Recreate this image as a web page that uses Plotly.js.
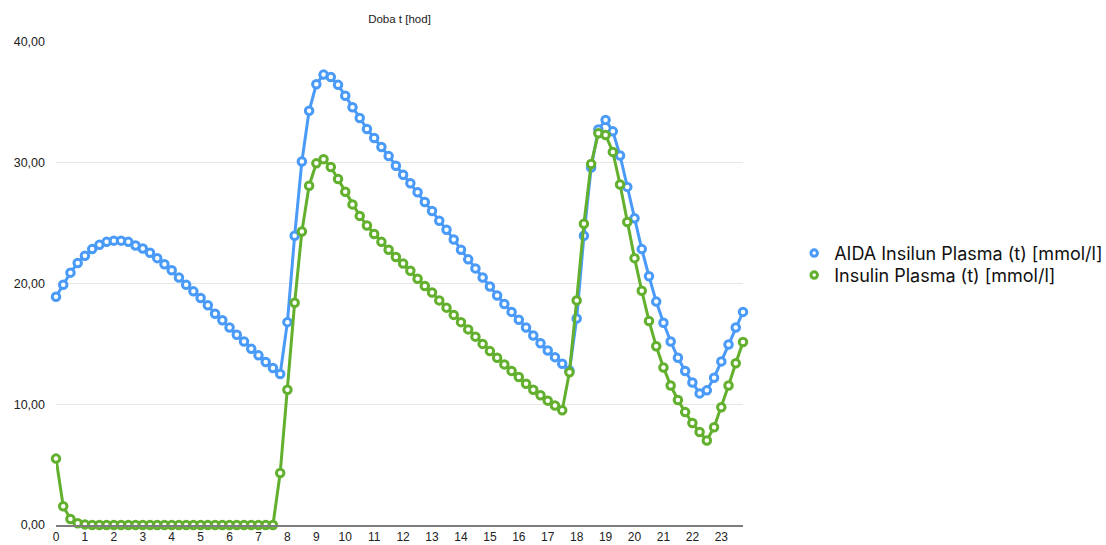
<!DOCTYPE html>
<html>
<head>
<meta charset="utf-8">
<script src="https://cdn.plot.ly/plotly-3.0.1.min.js"></script>
<style>html,body{margin:0;padding:0;background:#fff;}#chart{width:1106px;height:545px;}</style>
</head>
<body>
<div id="chart"></div>
<script>
// hours, every quarter hour from 0 to 23.75
const hours = [];
for (let i = 0; i < 96; i++) hours.push(i * 0.25);

const xTickVals = [0,1,2,3,4,5,6,7,8,9,10,11,12,13,14,15,16,17,18,19,20,21,22,23];
const yTickVals = [0,10,20,30,40];

const seriesNames = ["AIDA Insilun Plasma (t) [mmol/l]", "Insulin Plasma (t) [mmol/l]"];

const aidaInsulin = [
  18.9, 19.9, 20.9, 21.7, 22.3, 22.85, 23.2, 23.45, 23.55, 23.55, 23.45, 23.15,
  22.9, 22.55, 22.1, 21.6, 21.1, 20.5, 19.9, 19.35, 18.8, 18.2, 17.5, 16.95,
  16.35, 15.75, 15.2, 14.6, 14.05, 13.5, 13.0, 12.5,
  16.8, 23.95, 30.1, 34.3, 36.5, 37.3, 37.1, 36.45,
  35.55, 34.6, 33.7, 32.8, 32.05, 31.3, 30.55, 29.75,
  29.0, 28.3, 27.55, 26.75, 26.0, 25.2, 24.45, 23.65,
  22.8, 22.0, 21.25, 20.5, 19.75, 19.0, 18.3, 17.65,
  17.0, 16.35, 15.7, 15.05, 14.45, 13.9, 13.35, 12.8,
  17.1, 23.95, 29.6, 32.75, 33.55, 32.6, 30.6, 28.0,
  25.4, 22.85, 20.6, 18.5, 16.75, 15.2, 13.85, 12.75,
  11.8, 10.9, 11.15, 12.2, 13.55, 14.95, 16.35, 17.65
];

const plasmaInsulin = [
  5.5, 1.55, 0.5, 0.15, 0.05, 0, 0, 0, 0, 0, 0, 0,
  0, 0, 0, 0, 0, 0, 0, 0, 0, 0, 0, 0,
  0, 0, 0, 0, 0, 0, 0, 4.3,
  11.2, 18.4, 24.3, 28.1, 29.95, 30.3, 29.65, 28.65,
  27.6, 26.55, 25.6, 24.8, 24.1, 23.45, 22.8, 22.2,
  21.65, 21.05, 20.4, 19.8, 19.25, 18.6, 18.0, 17.4,
  16.8, 16.2, 15.6, 15.0, 14.4, 13.85, 13.3, 12.75,
  12.25, 11.7, 11.2, 10.75, 10.3, 9.9, 9.5, 12.65,
  18.6, 24.95, 29.9, 32.45, 32.3, 30.9, 28.2, 25.1,
  22.1, 19.4, 16.9, 14.8, 13.05, 11.55, 10.35, 9.35,
  8.45, 7.7, 7.0, 8.1, 9.75, 11.55, 13.4, 15.15
];

const BLUE = "#4a9af8";
const GREEN = "#62b02e";

function seriesTrace(y, color) {
  return {
    x: hours, y: y, type: "scatter", mode: "lines+markers",
    showlegend: false, cliponaxis: false, hoverinfo: "skip",
    line: {color: color, width: 3},
    marker: {symbol: "circle", size: 7.5, color: "#ffffff", line: {color: color, width: 3}}
  };
}
function legendTrace(name, color) {
  return {
    x: [null], y: [null], type: "scatter", mode: "markers", name: name,
    marker: {symbol: "circle", size: 6.5, color: "#ffffff", line: {color: color, width: 3}}
  };
}

const data = [
  seriesTrace(aidaInsulin, BLUE),
  seriesTrace(plasmaInsulin, GREEN),
  legendTrace(seriesNames[0], BLUE),
  legendTrace(seriesNames[1], GREEN)
];

const layout = {
  width: 1106, height: 545,
  margin: {l: 56, r: 363, t: 42, b: 20, pad: 0, autoexpand: false},
  paper_bgcolor: "#ffffff", plot_bgcolor: "#ffffff",
  separators: ",.",
  font: {family: "Liberation Sans, Arial, sans-serif", color: "#222222"},
  title: {
    text: "Doba t [hod]",
    font: {size: 11.5, color: "#222222"},
    x: 0.5, xref: "paper", xanchor: "center",
    y: 1, yref: "container", yanchor: "top", pad: {t: 15}
  },
  xaxis: {
    range: [0, 23.75], tickvals: xTickVals, ticktext: xTickVals.map(String),
    showgrid: false, zeroline: false, showline: true,
    linecolor: "#7d7d7d", linewidth: 2, ticks: "",
    tickfont: {size: 12, color: "#222222"}, ticklabelstandoff: 0
  },
  yaxis: {
    range: [0, 40], tickvals: yTickVals, tickformat: ".2f",
    showgrid: true, gridcolor: "#e6e6e6", gridwidth: 1,
    zeroline: false, showline: false, ticks: "",
    tickfont: {size: 12.5, color: "#222222"}, ticklabelstandoff: 10
  },
  legend: {
    x: 1.0745, xanchor: "left", y: 0.54, yanchor: "middle",
    font: {family: "Inter, Liberation Sans, Arial, sans-serif", size: 18, color: "#111111"},
    itemsizing: "trace", bgcolor: "rgba(0,0,0,0)", tracegroupgap: 0
  },
  hovermode: false
};

Plotly.newPlot("chart", data, layout, {displayModeBar: false, staticPlot: true}).then(function (gd) {
  // tighten legend row spacing (22px between rows) to match the reference
  const items = Array.from(gd.querySelectorAll(".legend .traces"));
  const parsed = items.map(function (el) {
    const m = (el.getAttribute("transform") || "").match(/translate\(\s*([-\d.]+)[ ,]+([-\d.]+)\s*\)/);
    return m ? [parseFloat(m[1]), parseFloat(m[2])] : null;
  });
  if (parsed.length === 2 && parsed[0] && parsed[1]) {
    const mid = (parsed[0][1] + parsed[1][1]) / 2;
    items[0].setAttribute("transform", "translate(" + parsed[0][0] + "," + (mid - 11) + ")");
    items[1].setAttribute("transform", "translate(" + parsed[1][0] + "," + (mid + 11) + ")");
  }
});
</script>
</body>
</html>
